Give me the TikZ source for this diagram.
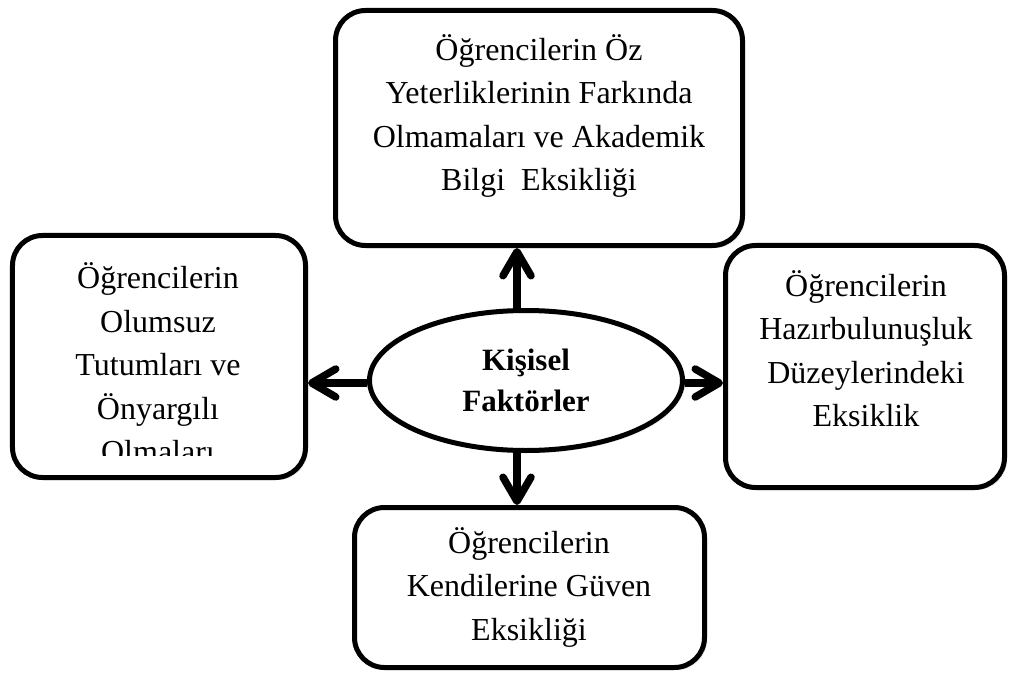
\documentclass[tikz,border=0pt]{standalone}
\usepackage{fontspec}
\setmainfont{Liberation Serif}
\usetikzlibrary{shapes.geometric,arrows.meta,shadows}

\begin{document}
\begin{tikzpicture}[x=1bp,y=-1bp,
  box/.style={draw, line width=5bp, rounded corners=30bp, fill=white,
    inner sep=0pt,
    drop shadow={shadow xshift=2.5bp, shadow yshift=-2.5bp, opacity=0.18}},
  oval/.style={draw, ellipse, line width=5bp, fill=white, inner sep=0pt,
    drop shadow={shadow xshift=2.5bp, shadow yshift=-2.5bp, opacity=0.18}},
  txt/.style={align=center, inner sep=0pt,
    font=\fontsize{32bp}{43.5bp}\selectfont},
  arr/.style={line width=7.5bp,
    -{Straight Barb[length=24bp, width=28bp, line cap=round, line join=round]}}
]
\useasboundingbox (0,0) rectangle (1009,674);

% central factor
\node[oval, minimum width=313bp, minimum height=140bp,
      font=\bfseries\fontsize{31bp}{41bp}\selectfont, align=center]
  (center) at (526,380.5) {Kişisel\\Faktörler};

% surrounding boxes
\node[box, minimum width=407bp, minimum height=235bp] (top) at (539,128) {};
\node[box, minimum width=293bp, minimum height=242bp] (left) at (159,356.5) {};
\node[box, minimum width=279bp, minimum height=242bp] (right) at (865,366.5) {};
\node[box, minimum width=350bp, minimum height=160bp] (bottom) at (529.5,587.5) {};

% box texts
\node[txt] (toptext) at (539,116)
  {Öğrencilerin Öz\\Yeterliklerinin Farkında\\Olmamaları ve Akademik\\Bilgi\ \ Eksikliği};
\begin{scope}
  \clip (12,240) rectangle (306,455);
  \node[txt] (lefttext) at (158,362.75)
    {Öğrencilerin\\Olumsuz\\Tutumları ve\\Önyargılı\\Olmaları};
\end{scope}
\node[txt] (righttext) at (866,348.75)
  {Öğrencilerin\\Hazırbulunuşluk\\Düzeylerindeki\\Eksiklik};
\node[txt] (bottomtext) at (529,587)
  {Öğrencilerin\\Kendilerine Güven\\Eksikliği};

% connectors
\coordinate (vx) at (517,0);
\coordinate (hy) at (0,383);
\draw[arr] (center.north -| vx) -- (top.south -| vx);
\draw[arr] (center.south -| vx) -- (bottom.north -| vx);
\draw[arr] (center.west |- hy) -- (left.east |- hy);
\draw[arr] (center.east |- hy) -- (right.west |- hy);
\end{tikzpicture}
\end{document}
